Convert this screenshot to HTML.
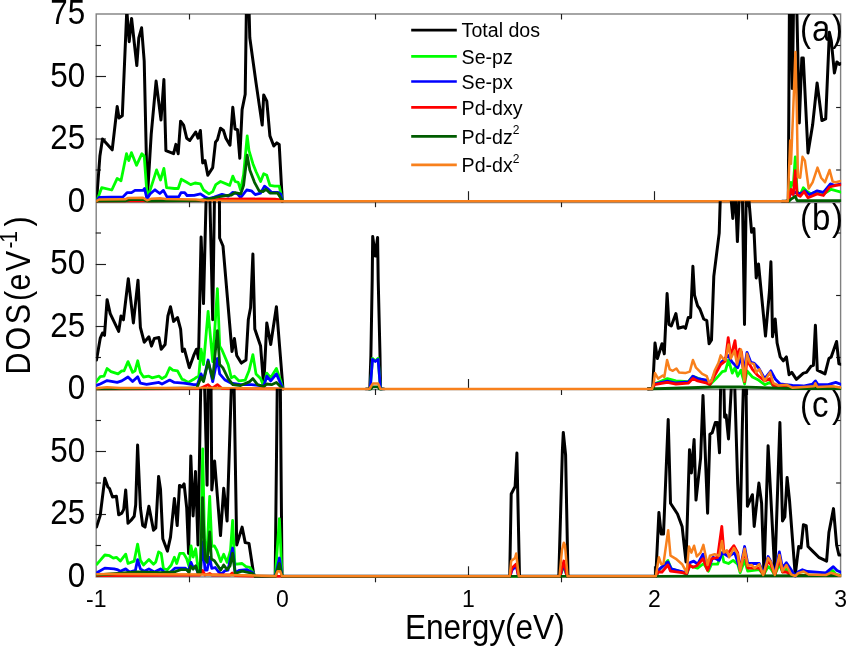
<!DOCTYPE html><html><head><meta charset="utf-8"><title>DOS</title><style>html,body{margin:0;padding:0;background:#fff;}svg{display:block;}text{font-family:'Liberation Sans', Arial, sans-serif;fill:#000;}</style></head><body>
<svg width="846" height="647" viewBox="0 0 846 647">
<rect width="846" height="647" fill="#fff"/>
<defs>
<clipPath id="c0"><rect x="96.2" y="14" width="744.9" height="188.7"/></clipPath>
<clipPath id="c1"><rect x="96.2" y="201.3" width="744.9" height="189.2"/></clipPath>
<clipPath id="c2"><rect x="96.2" y="388.7" width="744.9" height="189.1"/></clipPath>
</defs>
<g stroke="#808080" stroke-width="1.4" fill="none">
<rect x="96.2" y="14" width="744.4" height="562.9"/>
<line x1="96.2" y1="202.5" x2="840.6" y2="202.5"/>
<line x1="96.2" y1="389.6" x2="840.6" y2="389.6"/>
</g>
<g stroke="#1e1e1e" stroke-width="1.15">
<line x1="95.7" y1="139" x2="106" y2="139"/>
<line x1="95.7" y1="76.5" x2="106" y2="76.5"/>
<line x1="95.7" y1="170" x2="101" y2="170"/>
<line x1="840.6" y1="170" x2="836.1" y2="170"/>
<line x1="95.7" y1="107.5" x2="101" y2="107.5"/>
<line x1="840.6" y1="107.5" x2="836.1" y2="107.5"/>
<line x1="95.7" y1="45.5" x2="101" y2="45.5"/>
<line x1="840.6" y1="45.5" x2="836.1" y2="45.5"/>
<line x1="282.5" y1="201.2" x2="282.5" y2="191.2"/>
<line x1="468.5" y1="201.2" x2="468.5" y2="191.2"/>
<line x1="654.5" y1="201.2" x2="654.5" y2="191.2"/>
<line x1="189.5" y1="201.2" x2="189.5" y2="207.2"/>
<line x1="375.5" y1="201.2" x2="375.5" y2="207.2"/>
<line x1="561.5" y1="201.2" x2="561.5" y2="207.2"/>
<line x1="747.5" y1="201.2" x2="747.5" y2="207.2"/>
<line x1="95.7" y1="326.5" x2="106" y2="326.5"/>
<line x1="95.7" y1="264.5" x2="106" y2="264.5"/>
<line x1="95.7" y1="357.5" x2="101" y2="357.5"/>
<line x1="840.6" y1="357.5" x2="836.1" y2="357.5"/>
<line x1="95.7" y1="295.5" x2="101" y2="295.5"/>
<line x1="840.6" y1="295.5" x2="836.1" y2="295.5"/>
<line x1="95.7" y1="233" x2="101" y2="233"/>
<line x1="840.6" y1="233" x2="836.1" y2="233"/>
<line x1="282.5" y1="389" x2="282.5" y2="379"/>
<line x1="468.5" y1="389" x2="468.5" y2="379"/>
<line x1="654.5" y1="389" x2="654.5" y2="379"/>
<line x1="189.5" y1="389" x2="189.5" y2="395"/>
<line x1="375.5" y1="389" x2="375.5" y2="395"/>
<line x1="561.5" y1="389" x2="561.5" y2="395"/>
<line x1="747.5" y1="389" x2="747.5" y2="395"/>
<line x1="95.7" y1="514.5" x2="106" y2="514.5"/>
<line x1="95.7" y1="451.5" x2="106" y2="451.5"/>
<line x1="95.7" y1="545.5" x2="101" y2="545.5"/>
<line x1="840.6" y1="545.5" x2="836.1" y2="545.5"/>
<line x1="95.7" y1="483" x2="101" y2="483"/>
<line x1="840.6" y1="483" x2="836.1" y2="483"/>
<line x1="95.7" y1="420.5" x2="101" y2="420.5"/>
<line x1="840.6" y1="420.5" x2="836.1" y2="420.5"/>
<line x1="282.5" y1="576.3" x2="282.5" y2="566.3"/>
<line x1="468.5" y1="576.3" x2="468.5" y2="566.3"/>
<line x1="654.5" y1="576.3" x2="654.5" y2="566.3"/>
<line x1="189.5" y1="576.3" x2="189.5" y2="582.3"/>
<line x1="375.5" y1="576.3" x2="375.5" y2="582.3"/>
<line x1="561.5" y1="576.3" x2="561.5" y2="582.3"/>
<line x1="747.5" y1="576.3" x2="747.5" y2="582.3"/>
<line x1="189.5" y1="14" x2="189.5" y2="19.5"/>
<line x1="375.5" y1="14" x2="375.5" y2="19.5"/>
<line x1="561.5" y1="14" x2="561.5" y2="19.5"/>
<line x1="747.5" y1="14" x2="747.5" y2="19.5"/>
</g>
<g clip-path="url(#c0)" fill="none" stroke-linejoin="round" stroke-linecap="round">
<polyline stroke="#000000" stroke-width="3" points="96.5,201.3 99.9,156 102.5,139 112.2,149.8 117.2,106.5 119,118 122.3,115.8 126.8,10 129.2,41.7 131.6,18.5 136.8,65.6 138.8,37.8 141.6,27.8 144.2,61 147.3,198.5 151.2,134.4 156.1,81.1 161,120 163.9,79.6 165.9,150.6 173.6,153.7 175.9,144.4 178.2,153.7 180.6,121.2 183.6,125.1 186.7,138.2 189.8,140.5 192.9,136 195.7,132 198,138.2 200.4,130.5 202.7,163 205,160.6 207.8,175.3 212.7,167.6 215.5,142.1 217.4,139.8 220.5,128.2 223.5,130.5 225.9,138.2 230,145.2 232.8,107.3 235.1,129 237.5,129.7 239.8,158.3 242.1,109.6 245.2,94.2 246.4,8 249,8 249.8,37.8 256,82.6 262.2,125.1 263.7,95 266.8,101.2 269.9,135.9 273.8,146 276.9,142.9 279.2,144.4 282.3,201.3"/>
<polyline stroke="#000000" stroke-width="3" points="782,201.3 788.3,201.2 789.4,8 791,8 792.4,88.6 793.5,8 796.8,8 799.3,123 801.8,58 803.3,58 808,153 812.6,125.1 817.1,83 821.9,120.5 825.7,118.9 829.4,32.2 831.3,40.9 834.4,73 836.9,61.9 839.3,64.4 842,63"/>
<polyline stroke="#00ff00" stroke-width="2.8" points="96.8,201 101.7,187.7 111.8,190 117.2,178.4 121,180.7 126.5,153.7 128.8,160.6 131.4,152.6 136.5,165.3 141.9,153.7 144.2,156 147.3,198.5 151.2,186.9 156.6,169.9 160.5,180 163.9,168.4 166.6,187.7 174.4,188.5 178.2,188.5 181.3,179.2 186.7,182.3 190.6,184.6 195,183 200.4,183.8 203.5,190 208.9,193.9 212.7,191.6 215.8,184.6 220.5,181.5 229.7,185.4 232.8,176.1 235.1,181.5 238.2,182.3 240.6,190 243.6,174.6 247.2,135.9 249,150.6 252.9,163.7 256,171.5 260.6,181.5 263.7,173.8 266.8,175.3 269.9,185.4 274.6,186.1 279.2,186.1 281.5,196.2 282.3,201.3"/>
<polyline stroke="#00ff00" stroke-width="2.8" points="786,201.3 789,201 791,182.3 793.3,185.4 795.3,156.8 797.1,191.6 800.2,194.7 803.3,187.8 806.4,190.8 811,193.9 817.2,191.6 825,193.1 831.2,189.3 842,192.4"/>
<polyline stroke="#0000ff" stroke-width="2.8" points="96.8,201 99,197.5 123,196.9 127,192.7 131.5,192.7 135,190.4 143,190.4 144.5,188.5 147,199 150,194 155,189.8 159.8,193.5 163.4,190.4 167,196.9 178.7,196.9 181,192.7 184.7,192.7 187,195.5 194.2,195.4 200.4,193.9 205,197 208.9,198.5 214.3,197 222,194.3 228.2,196.2 232.8,192.3 237.5,193.9 240.6,197.7 246.7,190 251.4,190.8 255.2,194.6 260.6,193.1 264.5,186.1 267.6,188.5 271.5,192.3 277.6,192.3 280.7,193.9 282.3,201.3"/>
<polyline stroke="#0000ff" stroke-width="2.8" points="786,201.3 788.5,201 789.4,194.7 795.6,192.4 800.2,193.9 804.9,190.8 809.5,194.7 817.2,190.8 823.4,192.4 830.4,183.9 834.2,185.4 842,183.9"/>
<polyline stroke="#ff0000" stroke-width="2.8" points="96.8,201.2 150,200.9 200,200.6 215,199.8 222,199.2 260,199 275,199.2 281,199.8 282.3,201.2"/>
<polyline stroke="#ff0000" stroke-width="2.8" points="786,201.3 788.5,201 789.4,197.8 791,189.3 793.3,194.7 795.3,170.7 797.1,194.7 800.2,196.3 804.1,191.6 808,197.8 817.2,193.9 823.4,195.5 829.6,187 835.8,185.4 842,184.7"/>
<polyline stroke="#005c00" stroke-width="2.8" points="96.8,201.2 125,200.9 130,199.6 143,199.4 147,201 200,200.3 211,198.5 218,196.9 225.5,195.7 231.4,195 235,192.7 240.8,193.9 243.6,185.4 247.2,155.2 249.8,169.9 254.5,182.3 259.1,190.8 263,191.6 266,189.2 269.9,193.1 277.6,193.1 281.5,199.3 282.3,201"/>
<polyline stroke="#005c00" stroke-width="2.8" points="786,201.2 789,200.8 792,198.5 795.3,196.3 797,200.6 842,200.6"/>
<polyline stroke="#f8801c" stroke-width="2.5" points="96.2,201.2 99,199.5 125,199.3 128,198 143,197.8 147,200.3 151,198.8 160,198.2 166,199 196,199.4 206,200.4 282.3,201.2 787.8,201.3 790.2,140.6 791,163.8 793.2,110 795.4,52 796.8,110 797.9,177 800.2,177.7 802.5,156.8 804.9,160.7 808.7,188.5 812.6,182.3 817.5,167.6 821.1,177.7 825,182.3 829.6,170 832.7,181.6 835.8,182.3 842,180.8"/>
</g>
<g clip-path="url(#c1)" fill="none" stroke-linejoin="round" stroke-linecap="round">
<polyline stroke="#000000" stroke-width="3" points="96.5,360 100.2,338.4 102.5,333 104.5,335.3 107.1,299.7 110.2,313.6 118.7,331.4 121,316 123.4,319.8 128.3,278.7 133.4,322.9 138,280.2 140.4,327.5 144.2,342.2 148.9,336.8 151.5,346.1 154.3,338.4 158.9,337.6 161.2,349.2 165.1,344.5 167.9,316 170.5,306.7 173.6,321.4 177.5,317.5 180.6,329.1 182.4,351.5 184.4,349.2 189.3,367.7 193.7,355.4 196.5,349.2 198.5,358.5 201.1,237 203.5,303.6 206.2,195 209.8,195 212.7,319.8 214.5,195 219.4,195 219.6,238 223,246 232,351.5 234.4,338.4 236.7,355.4 241.3,363.1 246,360 248.3,319.8 250.6,307.5 252.9,254 254.8,329.1 260.6,346.1 263.7,386.3 266.8,322.9 270.7,344.5 276.4,306.7 283,389"/>
<polyline stroke="#000000" stroke-width="3" points="366,389 369.8,389 370.9,355 372.2,280 372.7,236.5 375.3,256 377.6,237.5 378.2,280 380,355 380.5,389 384,389"/>
<polyline stroke="#000000" stroke-width="3" points="648,389 652.7,387.8 655,343 657.4,358.5 662,343.8 664.3,353.8 667.1,293.5 669,324.5 671.3,326 675.9,313.6 678.2,328.3 683.6,326.8 685.5,328.3 688.3,317.5 690.6,317.5 692.9,266.3 694.5,295.1 697.6,305.9 699.9,309 703.7,319 706.8,320.6 709.1,343.8 711.5,339.9 713.8,276.4 719.2,233.1 720.4,195 730.8,195 732.8,218.4 734.6,195 735.5,195 737.4,241.6 739.3,195 742.4,195 744.5,324.5 746.2,195 748.5,195 751.6,232.3 753.9,228.5 756.2,277.9 758.5,264 765.5,336 769.4,292 770.9,261.7 771.7,292 772.5,336.8 775.2,319 777.1,343 780.2,356.9 783.3,360.8 786.4,356.9 789.1,374.7 791.8,372.4 796.4,379.3 803.4,373.1 806.5,372.4 811.1,366.2 813.4,365.4 815.4,325.2 817.3,370.1 825,373.9 828.9,358.5 831.2,356.9 836.6,341.5 838.9,363.9 842,364.6"/>
<polyline stroke="#00ff00" stroke-width="2.8" points="96.3,381.6 100.2,376.7 104,376.2 107.1,368.5 111,371.6 118,373.9 121.8,370.8 124.1,370.8 128,361.6 132.6,372.4 135,370.8 137.7,360.8 140.4,372.4 143.5,377 148.9,376.2 152,377.8 158.9,376.2 162,378.6 165.9,376.2 169.7,367.7 172.8,370.1 177.5,370.8 182.1,379.3 184.4,380.1 188.3,382.4 193.7,379.3 195.7,377.8 198.8,376.2 201.1,349.2 203.5,364.6 208.1,311.3 212.7,361.6 217.4,288.7 219.7,346.1 222,350 228.2,364.6 231.3,377.8 234.4,376.2 239,380.9 245.2,380.1 249,370.8 252.9,354.6 256,373.9 260.6,378.6 263.7,386.3 266.8,373.1 270.7,377.8 276.4,368.5 280.7,380.9 283,389"/>
<polyline stroke="#00ff00" stroke-width="2.8" points="369,389 370.2,389 372.5,358.3 375.3,361 378.1,358.3 380.5,389 382,389"/>
<polyline stroke="#00ff00" stroke-width="2.8" points="648,389 652.5,389 654.3,384 667.4,378.6 675.9,380.9 688.3,381.6 692.9,376.2 706.8,381.6 709.9,384.7 716.1,378.6 722.3,371.6 725.4,370.8 728.5,360 732.3,373.1 735,367.7 737.7,376.2 740.8,370.1 744.6,384 747,370.8 752.4,377 758.5,380.1 764.7,384.7 770.1,382.4 774,386.3 790,388 815.4,386 842,388"/>
<polyline stroke="#0000ff" stroke-width="2.8" points="96.3,385.5 100.2,384 107.1,380.6 117.2,382.4 121.8,380.9 128,377 132.6,381.6 137.7,376.7 140.4,383.2 146.6,384.4 158.9,382.4 162,384 169.7,380.1 174.4,382.4 183.6,383.2 193.7,384.7 197.3,384.7 201.1,373.9 203.5,380.1 208.1,360 212.7,381.6 217.4,358.5 219.7,373.9 225.1,380.1 231.3,383.2 240.6,384.7 251.4,384.7 260.6,385.5 263.7,386.3 266.8,376.2 270.7,380.9 276.4,373.9 283,389"/>
<polyline stroke="#0000ff" stroke-width="2.8" points="369,389 370.2,389 372.5,359.4 375.3,361.5 378.1,359.4 380.5,389 382,389"/>
<polyline stroke="#0000ff" stroke-width="2.8" points="648,389 652.5,389 654.3,384 667.4,381 675.9,383 688.3,382 692.9,376.2 697.6,378.6 706.8,380.1 709.9,384 714.6,374 720.7,363.1 728.2,355.4 732,362 737.7,367.7 741.5,356.9 743.9,372.4 747,352.3 750.8,362.3 753.9,363.1 758.5,367.7 764.7,378.6 770.9,370.8 775.5,379.3 780.2,384 786.4,384.7 792.6,385.5 803.4,386 812.6,384 815.4,380.9 818.1,384.7 828.1,384.7 835.8,382.4 842,384.7"/>
<polyline stroke="#ff0000" stroke-width="2.8" points="96.3,389 150,389 200,388.6 208.1,384.7 212,388.5 217.4,384.7 222,388.5 283,389"/>
<polyline stroke="#ff0000" stroke-width="2.8" points="648,389 652.5,389 654.3,384.7 667.4,382.4 675.9,384 688.3,383.2 692.9,378.6 697.6,380.9 706.8,383.2 709.9,384.7 714.6,375.5 720.7,364.6 725.4,360.8 728.2,337.6 730.8,356.9 735,340.7 737,358.5 739.6,349.2 741.5,352 744.6,381.6 747,360 752.4,369.3 757.8,375.5 764.7,380.9 770.1,378.6 773.2,385.5 780.2,387 790,388 842,388"/>
<polyline stroke="#005c00" stroke-width="2.8" points="96.3,389 150,388.6 197,387.8 201.1,377 203.5,381.6 208.1,361.6 212.7,378.6 217.4,330.6 219.7,364.6 222.8,367.7 228.2,378.6 232.8,384.7 240.6,385.5 249.8,381.6 252.9,378.6 257.5,384.7 263.7,386.6 266.8,384 271.5,384.7 276.4,382.4 283,389"/>
<polyline stroke="#005c00" stroke-width="2.8" points="369,389 371,389 372.5,386.9 378,386.9 379.5,389 381,389"/>
<polyline stroke="#005c00" stroke-width="2.8" points="648,389 715,387 740,387 790,388.5 842,388.5"/>
<polyline stroke="#f8801c" stroke-width="2.5" points="96.2,388.2 107,387.2 120,388.1 150,388 200,388.1 240,388.2 283,389 369.5,389 372.9,383.4 378.1,383.4 380.5,389 652,389 653.5,384.7 655,373.1 658.1,378.6 662.8,375.5 664.3,377 667.1,360 669.7,369.3 672.8,370.8 676.4,368.5 679,372.4 685.2,373.1 689.8,371.6 692.9,360 696,367.7 702.2,373.9 706.8,376.2 709.1,382.4 711.5,380.9 714.6,370.8 718.4,363.1 720.7,355.4 723,358.5 725.4,360 728.5,344.6 730.8,358.5 734.6,350.7 737,364.6 741,349.5 744.3,381 747,353.8 750,363.1 753.9,363.9 756.2,372.4 759.3,369.3 764.7,380.9 770.1,372.4 773.2,383.2 778.6,385.5 786.4,384.7 792.6,387.8 814.2,386.3 815.4,383.2 817.3,387 832.7,386.3 842,387.8"/>
</g>
<g clip-path="url(#c2)" fill="none" stroke-linejoin="round" stroke-linecap="round">
<polyline stroke="#000000" stroke-width="3" points="96.5,527 100.2,515.5 104.8,478.3 107.9,487 109.5,488.5 112.5,497 116.4,496.2 118.7,514.8 121.8,513.2 123.7,509.4 125.7,490 128,523.3 131.1,520.2 134.2,516.3 135.7,504.7 137.6,445 140.4,507.8 142.7,525.6 145,527.1 148.9,506.3 153.5,530.2 155.8,527.9 158.6,476.4 160.5,489.3 162.8,538.7 167.4,551.1 170.5,537.2 174.4,498.5 177.2,525.6 179.5,485.4 182.1,487 184.1,483.9 186.7,507.8 188.6,553.4 190.8,455.9 193.1,515.9 195.5,471.5 198,545 200.8,382 204.5,382 207.1,485.3 208.3,382 211,382 211.8,490 214.6,461 220.5,535.6 223.7,488.3 227.1,521 231.5,382 234,382 236.7,545 242.1,527.1 245.2,542.6 249,543.4 253.7,574.3 255,576.3 275.2,576.3 277.3,382 280.3,382 282,576.3 509.7,576.3 511.2,494 515.1,486.5 516.9,453 519.5,576.3 558.8,576.3 562.4,450 563.3,432.4 565.6,455 568,576.3 655.8,576.3 658.9,512.5 661.2,534.1 663.5,534.1 668.2,419.5 670.5,503.2 677.5,514 682.1,526.4 686,561.9 689.5,449.7 691.4,472.9 694.1,439.6 696,500.1 700.6,458.2 703,395.6 707.6,513.2 709.9,434.2 712.2,432.7 715.3,422.6 717.3,422.6 719.5,452.8 720.7,382 723.8,382 724.6,417.2 726.1,414.9 728.5,438.9 731.6,382 734.6,382 737.7,484 740.1,534.1 742.4,422.6 743.5,382 746,382 747.4,506.3 752.4,494.7 754.2,526.4 758.9,483.1 761.6,503.2 764,574.3 768.1,445.8 774.8,572.7 779.9,422.6 782.5,521 784.8,517.1 787.1,477.5 789.5,500.1 795.2,575 798.7,546.5 801,548 803.4,524.8 806.2,525.6 808,546.5 812.6,551.1 818.8,557.3 826.6,561.1 828.9,532.5 833.5,508.6 836.6,544.9 838.9,555 842,555"/>
<polyline stroke="#00ff00" stroke-width="2.8" points="96.8,564.2 100.2,560.4 104.8,555 109.5,555.7 113.3,558.1 116.4,557.3 120.3,561.1 125.7,554.2 128,563.5 134.2,561.1 137.6,544.1 140.4,560.4 143.5,565 148.9,559.6 153.5,564.2 155.8,561.9 158.6,551.9 161.2,553.4 163.5,568.9 167.4,569.6 171.3,565 174.4,557.3 176.7,563.5 179.8,553.4 183.6,553.4 186.7,558.8 189.1,566.6 191,545.8 193.1,557 195.7,548.8 198.2,570.9 200.8,560 202.7,448.9 204.5,540 206.7,559 209.7,496.4 211.8,546.3 214.4,545.8 216.9,550.5 220.7,561.6 223.7,554.3 227.1,562.4 230.5,550.5 232.6,520.5 234.8,563.3 236.7,564.2 242.1,563.5 246,566.6 249.8,567.3 253.7,573.5 255,576.3 275.3,576.3 279.4,518.6 282,576.3 560,576.3 563.8,566 567,576.3 656,576.3 658.9,570.4 667.9,560.4 671.3,568.9 683.6,572.7 686.7,574.5 689.8,565.8 697.6,568.1 703.7,563.5 708.4,571.2 711.5,564.2 717.6,564.2 721.8,552.6 723.8,561.9 728.5,563.5 733.1,560.4 737.7,564.2 740.1,572.7 744.6,560.4 747.7,571.2 759.3,569.6 763.5,575 768.1,566.6 771,569 774.8,575 779.4,564.2 782.5,572 786.4,568.9 791,575 826,575.5 832.7,570.5 836,574.5 842,575.3"/>
<polyline stroke="#0000ff" stroke-width="2.8" points="96.8,572.7 104.8,568.1 114.1,568.9 117.2,569.6 120.3,571.2 125.7,568.9 129.5,572 135.4,570.4 137.6,559.6 140.4,568.9 144.2,571.2 148.9,568.9 154.3,572 160.5,568.9 164.3,572 169.7,572.7 175.1,568.1 179.8,568.1 185.2,568.1 188.3,571.2 191,562.4 193.1,567.5 195.7,566.7 198.2,573.5 200.5,572 202.9,542 205,570.1 207.1,570.1 209.7,557.3 211.8,568.4 215.2,567.5 218.6,571.8 221.6,573.9 224.6,570.9 228,570.1 232.6,548 235.2,572.6 239,570.4 246.7,569.6 252.9,572.7 255,576.3 275.3,576.3 279.4,558 282,576.3 510,576.3 512,570 516.2,566 518.5,576.3 560,576.3 563.8,564 567,576.3 656,576.3 658.9,569.6 667.9,561.9 671.3,568.9 683.6,572 686.7,574 689.8,562.7 693.7,561.1 697.6,564.2 703,554.2 708.4,568.1 713,557.3 719.2,560.4 722.3,552.6 728.5,556.5 734.6,552.6 740.1,569.6 744.6,546.5 747.7,563.5 759.3,563.5 763.5,574 768.1,556.5 771,562 774.8,574 779.4,551.9 782.5,568 786.4,562.7 790,568 795.3,576.3 798,572 802.4,569.7 807.3,571.5 825.8,572.8 833.3,566.6 837,570.5 842,572.8"/>
<polyline stroke="#ff0000" stroke-width="2.8" points="96.8,575.5 200,575 202.5,570.5 205,575 209.7,573.5 212,575 230,575 232.2,573 235,575.5 255,576.3 510,576.3 512,568 516.2,564 518.5,576.3 560,576.3 563.8,561 567,576.3 656,576.3 658.1,572 662,572 667.9,565 670.5,571.2 682.1,572.7 686.7,573.5 689.8,565 692.9,567.3 696.8,565.8 703,558.8 707.6,570.4 711.5,558.8 717.6,557.3 721.8,526.4 723.8,551.1 728.5,552.6 733.9,545.7 737.7,552.6 740.1,569.6 744.6,551.1 747.7,568.1 759.3,568.1 763.5,575 768.1,560.4 771,565 774.8,575 779.4,558.8 782.5,572 786.4,572 791,575.5 842,575.5"/>
<polyline stroke="#005c00" stroke-width="2.8" points="96.8,575 137.3,572 160.5,572.7 174.4,572 180.6,569.6 186.7,569.6 189.1,572.7 190.6,566.2 193.1,569.2 195.7,565.8 198.2,573.5 200.3,572.6 202.5,497.6 205,559 207.1,562.4 209.7,531.8 211.4,559 214.4,560.7 217.8,565.8 220.7,570.1 223.7,565 227.1,569.6 230.1,565.8 232.6,553.1 235.2,573.5 237.5,572.7 242.1,571.2 252.9,573.5 255,576.3 275.3,576.3 279.4,563.5 282,576.3 656,576.3 842,575.5"/>
<polyline stroke="#f8801c" stroke-width="2.5" points="96.2,574.2 110,574 150,574.3 200,574.5 255,575.5 275.5,576.3 277.6,571.2 280.2,571.2 282,576.3 509.7,576.3 511.2,561 515,558 516.2,553.5 518.8,576.3 559.5,576.3 562,550 563.8,542.7 565,545 567.5,576.3 655.8,576.3 658.9,557.3 661.2,564.2 663.5,563.5 668.2,530.2 670.5,555.7 675.9,558.8 682.1,564.2 686.7,572.7 689,546.5 691.4,552.6 694.1,545.7 696.8,556.5 700.6,552.6 703.4,544.9 707.6,565 709.9,555.7 714.6,554.2 719.2,555.7 722,541.1 723.8,552.6 726.9,550.3 729.2,557.3 733.9,548 737.7,554.2 740.1,571.2 744.6,548.8 747.7,565.8 751.6,565 754.7,568.1 759.3,564.2 763.2,575 768.1,558 770.9,561.9 774.8,575 779.4,555 782.5,571.2 786.4,565 791,574.3 795.3,576 798,573.3 803.6,571.5 808.6,574.5 825.8,575 830.8,572.8 835,574 838.9,575.5 842,575.5"/>
</g>
<text transform="translate(85.2,24.4) scale(1,1.1)" font-size="31.4" text-anchor="end">75</text>
<text transform="translate(85.2,86.8) scale(1,1.1)" font-size="31.4" text-anchor="end">50</text>
<text transform="translate(85.2,149.2) scale(1,1.1)" font-size="31.4" text-anchor="end">25</text>
<text transform="translate(85.2,211.6) scale(1,1.1)" font-size="31.4" text-anchor="end">0</text>
<text transform="translate(85.2,274.3) scale(1,1.1)" font-size="31.4" text-anchor="end">50</text>
<text transform="translate(85.2,336.8) scale(1,1.1)" font-size="31.4" text-anchor="end">25</text>
<text transform="translate(85.2,399.4) scale(1,1.1)" font-size="31.4" text-anchor="end">0</text>
<text transform="translate(85.2,461.6) scale(1,1.1)" font-size="31.4" text-anchor="end">50</text>
<text transform="translate(85.2,524.2) scale(1,1.1)" font-size="31.4" text-anchor="end">25</text>
<text transform="translate(85.2,586.7) scale(1,1.1)" font-size="31.4" text-anchor="end">0</text>
<text transform="translate(96.2,607) scale(1,1)" font-size="23" text-anchor="middle">-1</text>
<text transform="translate(282.3,607) scale(1,1)" font-size="23" text-anchor="middle">0</text>
<text transform="translate(468.4,607) scale(1,1)" font-size="23" text-anchor="middle">1</text>
<text transform="translate(654.5,607) scale(1,1)" font-size="23" text-anchor="middle">2</text>
<text transform="translate(840.6,607) scale(1,1)" font-size="23" text-anchor="middle">3</text>
<text transform="translate(484.8,638.6) scale(1,1.1)" font-size="31.6" text-anchor="middle">Energy(eV)</text>
<text transform="translate(29.9,374.9) rotate(-90) scale(1,1.18)" font-size="30.5" x="0.5 24.5 50.6 74 84.5 103.6" y="0">DOS(eV<tspan font-size="21" x="126.4 132.2" y="-11.2 -11.2">-1</tspan><tspan x="148.3" y="0">)</tspan></text>
<text transform="translate(799.9,41) scale(1,1.115)" font-size="33" x="0 12.1 32.1">(a)</text>
<text transform="translate(799.9,230.2) scale(1,1.115)" font-size="33" x="0 12.1 32.1">(b)</text>
<text transform="translate(799.9,417.2) scale(1,1.115)" font-size="33" x="0 12.1 32.1">(c)</text>
<line x1="411.2" y1="30.1" x2="456.8" y2="30.1" stroke="#000000" stroke-width="2.7" stroke-linecap="butt"/>
<text transform="translate(461.6,37.3) scale(1,1.0)" font-size="19.6">Total dos</text>
<line x1="411.2" y1="56.4" x2="456.8" y2="56.4" stroke="#00ff00" stroke-width="2.7" stroke-linecap="butt"/>
<text transform="translate(461.6,63.6) scale(1,1.0)" font-size="19.6">Se-pz</text>
<line x1="411.2" y1="81.5" x2="456.8" y2="81.5" stroke="#0000ff" stroke-width="2.7" stroke-linecap="butt"/>
<text transform="translate(461.6,88.7) scale(1,1.0)" font-size="19.6">Se-px</text>
<line x1="411.2" y1="107.4" x2="456.8" y2="107.4" stroke="#ff0000" stroke-width="2.7" stroke-linecap="butt"/>
<text transform="translate(461.6,114.6) scale(1,1.0)" font-size="19.6">Pd-dxy</text>
<line x1="411.2" y1="136.3" x2="456.8" y2="136.3" stroke="#005c00" stroke-width="2.7" stroke-linecap="butt"/>
<text transform="translate(461.6,143.5) scale(1,1.0)" font-size="19.6">Pd-dz<tspan font-size="12" dy="-9.5">2</tspan></text>
<line x1="411.2" y1="164.8" x2="456.8" y2="164.8" stroke="#f8801c" stroke-width="2.7" stroke-linecap="butt"/>
<text transform="translate(461.6,172) scale(1,1.0)" font-size="19.6">Pd-dx<tspan font-size="12" dy="-9.5">2</tspan></text>
</svg></body></html>
